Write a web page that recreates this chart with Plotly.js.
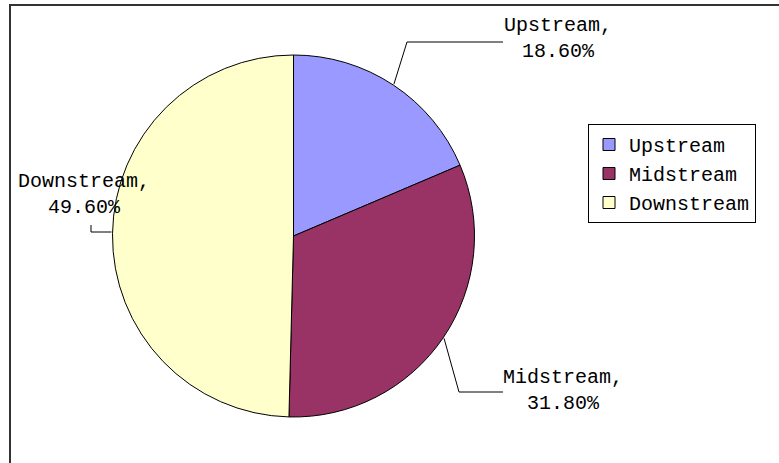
<!DOCTYPE html>
<html>
<head>
<meta charset="utf-8">
<script src="https://cdn.plot.ly/plotly-3.0.1.min.js"></script>
<style>html,body{margin:0;padding:0;background:#fff;}#chart{width:779px;height:463px;}</style>
</head>
<body>
<div id="chart"></div>
<script>
// ---- data ----
const categories = ["Upstream", "Midstream", "Downstream"];
const shares = [18.6, 31.8, 49.6];
const pctLabels = ["18.60%", "31.80%", "49.60%"];
const sliceColors = ["#9999FF", "#993366", "#FFFFCC"];

// ---- layout constants (pixels) ----
const W = 779, H = 463;
const cx = 293.5, cy = 236, R = 181;
const FONT = "Liberation Mono, Courier New, monospace";
const px = x => x / W;
const py = y => 1 - y / H;

// label block centres and elbow points (style/positions)
const labelPos = [
  {tx: 558, ty: 39, elbow: [407, 42], end: [503, 42]},
  {tx: 563, ty: 390, elbow: [459, 392], end: [503, 392]},
  {tx: 84, ty: 194, elbow: [91, 232], end: [91, 225]}
];

// mid-angle of each slice (clockwise from 12 o'clock), computed from data
const total = shares.reduce((a, b) => a + b, 0);
let cum = 0;
const midAngles = shares.map(v => { const m = (cum + v / 2) / total * 2 * Math.PI; cum += v; return m; });

const annotations = categories.map((c, i) => ({
  xref: "paper", yref: "paper",
  x: px(labelPos[i].tx), y: py(labelPos[i].ty),
  xanchor: "center", yanchor: "middle",
  text: c + ",<br>" + pctLabels[i],
  showarrow: false, align: "center",
  font: {family: FONT, size: 20, color: "#000"}
}));

const shapes = categories.map((c, i) => {
  const a = midAngles[i];
  const sx = cx + (R + 1) * Math.sin(a), sy = cy - (R + 1) * Math.cos(a);
  let p;
  if (i === 2) {
    p = `M${px(sx)},${py(labelPos[i].elbow[1])} L${px(labelPos[i].elbow[0])},${py(labelPos[i].elbow[1])} L${px(labelPos[i].end[0])},${py(labelPos[i].end[1])}`;
  } else {
    p = `M${px(sx)},${py(sy)} L${px(labelPos[i].elbow[0])},${py(labelPos[i].elbow[1])} L${px(labelPos[i].end[0])},${py(labelPos[i].end[1])}`;
  }
  return {type: "path", xref: "paper", yref: "paper", path: p, line: {color: "#000", width: 1}};
});
// chart frame
shapes.push({type: "path", xref: "paper", yref: "paper",
  path: `M${px(10)},${py(H + 2)} L${px(10)},${py(5)} L${px(W + 2)},${py(5)}`,
  line: {color: "#333", width: 2}});

const trace = {
  type: "pie",
  labels: categories,
  values: shares,
  sort: false,
  direction: "clockwise",
  rotation: 0,
  textinfo: "none",
  hoverinfo: "label+percent",
  marker: {colors: sliceColors, line: {color: "#000", width: 1}},
  domain: {x: [px(cx - R), px(cx + R)], y: [py(cy + R), py(cy - R)]}
};

const layout = {
  width: W, height: H,
  margin: {l: 0, r: 0, t: 0, b: 0},
  paper_bgcolor: "#fff",
  showlegend: true,
  legend: {
    x: px(588), y: py(124), xanchor: "left", yanchor: "top",
    bordercolor: "#000", borderwidth: 1, bgcolor: "#fff",
    font: {family: FONT, size: 20, color: "#000"},
    itemwidth: 30, tracegroupgap: 0
  },
  annotations: annotations,
  shapes: shapes
};

Plotly.newPlot("chart", [trace], layout, {displayModeBar: false, staticPlot: true});
</script>
</body>
</html>
